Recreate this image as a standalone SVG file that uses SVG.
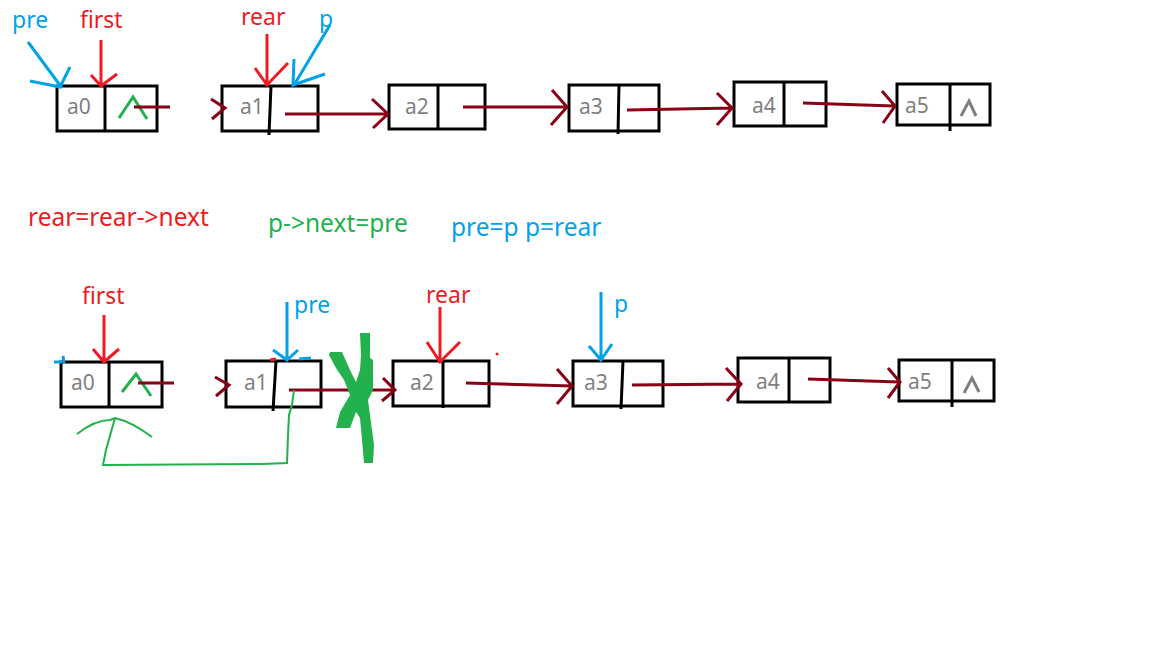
<svg xmlns="http://www.w3.org/2000/svg" width="1152" height="648" viewBox="0 0 1152 648">
<style>
.box{fill:none;stroke:#000;stroke-width:3}
.div{stroke:#000;stroke-width:3;fill:none}
.lbl{font-family:"Noto Sans","Open Sans",sans-serif;font-size:21px;fill:#7f7f7f}
.red{fill:#ed1c24;font-family:"Noto Sans","Open Sans",sans-serif;font-size:23px}
.blue{fill:#00a2e8;font-family:"Noto Sans","Open Sans",sans-serif;font-size:23px}
.green{fill:#22b14c;font-family:"Noto Sans","Open Sans",sans-serif;font-size:23px}
.mid{font-size:24.5px}
.lr{stroke:#880015;stroke-width:3;fill:none}
.pr{stroke:#ed1c24;stroke-width:3;fill:none}
.pb{stroke:#00a2e8;stroke-width:3;fill:none}
.gc{stroke:#22b14c;stroke-width:3;fill:none}
.gy{stroke:#7f7f7f;stroke-width:3;fill:none}
.gl{stroke:#22b14c;stroke-width:2;fill:none}
</style>
<rect width="1152" height="648" fill="#fff"/>

<!-- top row nodes -->
<g id="t-a0"><rect class="box" x="57" y="86" width="100" height="45"/><line class="div" x1="105" y1="86" x2="105" y2="131"/><text class="lbl" x="67" y="114">a0</text><polyline class="gc" points="119,118 133,97 147,119"/></g>
<g id="t-a1"><rect class="box" x="222" y="86" width="96" height="45"/><line class="div" x1="271" y1="86" x2="269" y2="135"/><text class="lbl" x="240" y="114">a1</text></g>
<g id="t-a2"><rect class="box" x="389" y="85" width="96" height="44"/><line class="div" x1="438" y1="85" x2="438" y2="130"/><text class="lbl" x="405" y="114">a2</text></g>
<g id="t-a3"><rect class="box" x="569" y="85" width="90" height="46"/><line class="div" x1="619" y1="85" x2="618" y2="134"/><text class="lbl" x="579" y="114">a3</text></g>
<g id="t-a4"><rect class="box" x="734" y="82" width="92" height="44"/><line class="div" x1="784" y1="82" x2="784" y2="126"/><text class="lbl" x="752" y="113">a4</text></g>
<g id="t-a5"><rect class="box" x="897" y="84" width="93" height="41"/><line class="div" x1="950" y1="84" x2="950" y2="131"/><text class="lbl" x="905" y="113">a5</text><polyline class="gy" points="961,116 969,101 976,116"/></g>

<!-- top labels -->
<text class="blue" x="12" y="28">pre</text>
<text class="red" x="80" y="28">first</text>
<text class="red" x="241" y="25">rear</text>
<text class="blue" x="319" y="27">p</text>

<!-- middle texts -->
<text class="red mid" x="28" y="226">rear=rear-&gt;next</text>
<text class="green mid" x="268" y="232">p-&gt;next=pre</text>
<text class="blue mid" x="451" y="236">pre=p p=rear</text>

<!-- bottom row nodes -->
<g id="b-a0"><rect class="box" x="61" y="362" width="101" height="45"/><line class="div" x1="109" y1="362" x2="109" y2="407"/><text class="lbl" x="71" y="390">a0</text><polyline class="gc" points="122,392 136,374 151,396"/></g>
<g id="b-a1"><rect class="box" x="226" y="361" width="95" height="46"/><line class="div" x1="276" y1="361" x2="273" y2="411"/><text class="lbl" x="244" y="390">a1</text></g>
<g id="b-a2"><rect class="box" x="393" y="361" width="96" height="45"/><line class="div" x1="443" y1="361" x2="443" y2="408"/><text class="lbl" x="410" y="390">a2</text></g>
<g id="b-a3"><rect class="box" x="573" y="361" width="90" height="45"/><line class="div" x1="623" y1="361" x2="621" y2="409"/><text class="lbl" x="584" y="390">a3</text></g>
<g id="b-a4"><rect class="box" x="738" y="358" width="92" height="44"/><line class="div" x1="789" y1="358" x2="789" y2="402"/><text class="lbl" x="756" y="389">a4</text></g>
<g id="b-a5"><rect class="box" x="899" y="360" width="95" height="41"/><line class="div" x1="952" y1="360" x2="952" y2="407"/><text class="lbl" x="908" y="389">a5</text><polyline class="gy" points="964,393 972,378 979,392"/></g>

<!-- bottom labels -->
<text class="red" x="82" y="304">first</text>
<text class="blue" x="294" y="313">pre</text>
<text class="red" x="426" y="303">rear</text>
<text class="blue" x="614" y="312">p</text>

<g id="connectors">
 <!-- top pointers -->
 <path class="pb" d="M28,42 L62,88 M30,81 L60,87 L70,67"/>
 <path class="pr" d="M101,40 L101,86 M91,75 L101,86 L117,74"/>
 <path class="pr" d="M267,34 L267,86 M255,68 L267,85 L288,63"/>
 <path class="pb" d="M330,25 L294,85 M294,59 L293,85 L325,74"/>
 <!-- top links -->
 <path class="lr" d="M134,107 L170,107"/>
 <path class="lr" d="M211,99 L225,108 L212,119"/>
 <path class="lr" d="M285,114 L388,114 M372,99 L388,114 L373,128"/>
 <path class="lr" d="M463,107 L520,107 L567,107 M552,90 L567,107 L551,125"/>
 <path class="lr" d="M627,110 L732,108 M717,93 L732,108 L717,125"/>
 <path class="lr" d="M803,103 L894,106 M882,91 L895,106 L883,123"/>
 <!-- bottom pointers -->
 <path class="pr" d="M104,315 L104,362 M93,349 L104,362 L119,349"/>
 <path class="pb" d="M287,302 L287,360 M273,350 L287,360 L298,350"/>
 <path class="pr" d="M440,307 L440,362 M427,342 L440,362 L460,342"/>
 <path class="pb" d="M601,292 L601,360 M589,346 L601,360 L612,344"/>
 <path class="pb" d="M54,362 L62,362 M63,356 L64,363"/>
 <path class="pr" d="M270,360 L276,359"/>
 <path class="pb" d="M299,359 L311,358"/>
 <circle cx="497" cy="354" r="1.5" fill="#ed1c24"/>
 <!-- bottom links -->
 <path class="lr" d="M138,383 L174,383"/>
 <path class="lr" d="M215,377 L229,385 L216,396"/>
 <path class="lr" d="M289,390 L395,390 M383,378 L395,390 L382,401"/>
 <path class="lr" d="M466,383 L572,386 M557,369 L572,386 L557,404"/>
 <path class="lr" d="M632,385 L740,384 M726,368 L741,384 L727,401"/>
 <path class="lr" d="M808,379 L899,382 M888,368 L900,382 L888,398"/>
 <!-- green reroute p->next=pre -->
 <path class="gl" d="M294,390 L292,405 L289,415 L288,435 L287,463 L262,464 L103,465 L106,450 L115,418 M77,434 Q95,420 110,420 L115,418 Q132,422 152,437"/>
 <!-- green X cutting a1->a2 -->
 <path fill="#22b14c" d="M360,333 L370,333 L370,358 L373,360 L373,390 L368,400 L372,430 L374,445 L373,463 L364,463 L362,440 L360,418 L356,412 L350,428 L336,428 L340,412 L350,395 L344,380 L336,368 L329,355 L330,352 L342,352 L350,370 L356,382 L360,370 L361,355 Z"/>
</g>
</svg>
